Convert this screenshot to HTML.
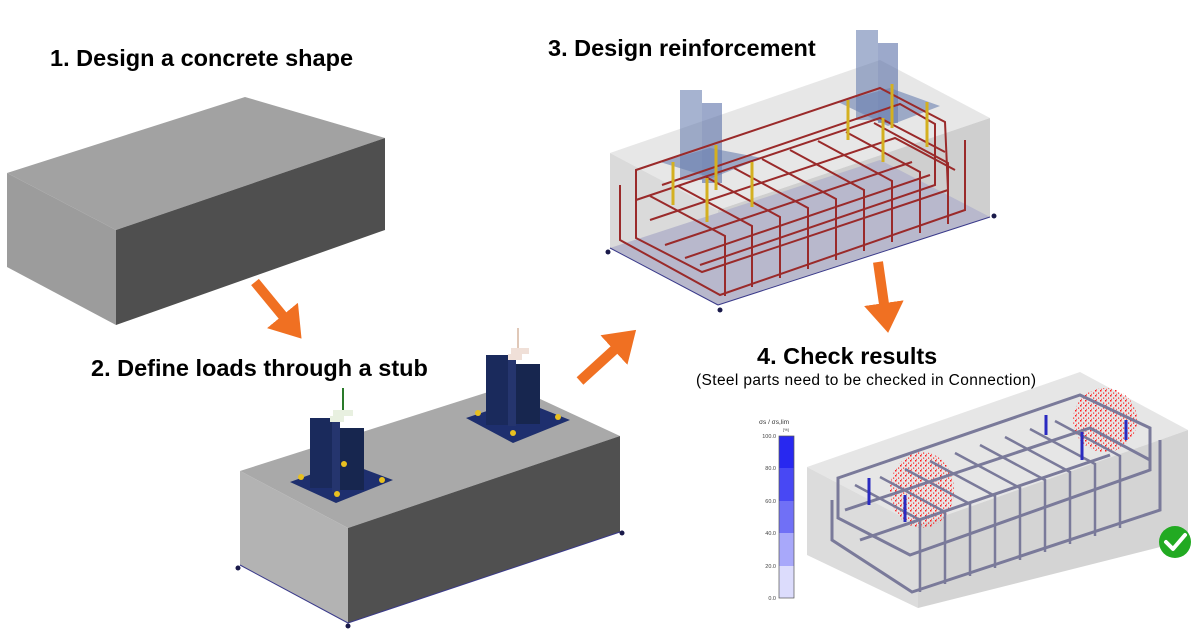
<!DOCTYPE html>
<html><head><meta charset="utf-8"><style>
body{margin:0;background:#fff;}
svg{display:block;font-family:"Liberation Sans","DejaVu Sans",sans-serif;}
</style></head><body>
<svg width="1200" height="630" viewBox="0 0 1200 630" xmlns="http://www.w3.org/2000/svg">
<defs>
<marker id="ah" markerWidth="4" markerHeight="4" refX="1.5" refY="2" orient="auto" markerUnits="strokeWidth">
<path d="M0,0 L3,2 L0,4 z" fill="#f07022"/></marker>
<pattern id="dots" width="5" height="5" patternUnits="userSpaceOnUse">
<rect x="0" y="0" width="1.5" height="1.5" fill="#ff1a1a"/><rect x="3" y="2.5" width="1.2" height="1.2" fill="#ff1a1a"/><rect x="1" y="3.8" width="1" height="1" fill="#ff4040"/>
</pattern>
</defs>
<!-- Titles -->
<g font-weight="bold" fill="#000">
<text x="50" y="66" font-size="23.5">1. Design a concrete shape</text>
<text x="91" y="376" font-size="23.5">2. Define loads through a stub</text>
<text x="548" y="56" font-size="23.5">3. Design reinforcement</text>
<text x="757" y="364" font-size="23.5">4. Check results</text>
</g>
<text x="696" y="385" font-size="15.5" fill="#000" textLength="340">(Steel parts need to be checked in Connection)</text>

<!-- Block 1 -->
<polygon points="7,173 245,97 385,138 116,230" fill="#a2a2a2"/>
<polygon points="7,173 116,230 116,325 7,267" fill="#9c9c9c"/>
<polygon points="116,230 385,138 385,230 116,325" fill="#4f4f4f"/>

<!-- Arrows -->
<g stroke="#f07022" stroke-width="10" fill="none">
<line x1="255" y1="282" x2="292" y2="327" marker-end="url(#ah)"/>
<line x1="580" y1="381" x2="625" y2="340" marker-end="url(#ah)"/>
<line x1="878" y1="262" x2="886" y2="318" marker-end="url(#ah)"/>
</g>

<!-- Block 2 -->
<polygon points="240,471 510,385 620,436 348,528" fill="#a9a9a9"/>
<polygon points="240,471 348,528 348,623 240,565" fill="#b3b3b3"/>
<polygon points="348,528 620,436 620,532 348,623" fill="#505050"/>
<line x1="240" y1="565" x2="348" y2="623" stroke="#3a3a8a" stroke-width="1"/>
<line x1="348" y1="623" x2="620" y2="532" stroke="#3a3a8a" stroke-width="1"/>
<!-- stub 1 -->
<polygon points="290,482 345,462 393,480 336,503" fill="#1e2f6e"/>
<rect x="310" y="418" width="22" height="70" fill="#1a2a5c"/>
<rect x="332" y="422" width="8" height="70" fill="#25356e"/>
<rect x="340" y="428" width="24" height="62" fill="#17264f"/>
<line x1="343" y1="388" x2="343" y2="412" stroke="#2a7a2a" stroke-width="2"/>
<rect x="333" y="410" width="20" height="6" fill="#e8f0e0"/>
<rect x="330" y="416" width="14" height="6" fill="#e8f0e0"/>
<g fill="#e8c020"><circle cx="301" cy="477" r="3"/><circle cx="382" cy="480" r="3"/><circle cx="337" cy="494" r="3"/><circle cx="344" cy="464" r="3"/></g>
<!-- stub 2 -->
<polygon points="466,418 520,400 570,420 513,443" fill="#1e2f6e"/>
<rect x="486" y="355" width="22" height="70" fill="#1a2a5c"/>
<rect x="508" y="360" width="8" height="66" fill="#25356e"/>
<rect x="516" y="364" width="24" height="60" fill="#17264f"/>
<line x1="518" y1="328" x2="518" y2="348" stroke="#c09070" stroke-width="1"/>
<rect x="511" y="348" width="18" height="6" fill="#f0e0d8"/>
<rect x="508" y="354" width="14" height="6" fill="#f0e0d8"/>
<g fill="#e8c020"><circle cx="478" cy="413" r="3"/><circle cx="558" cy="417" r="3"/><circle cx="513" cy="433" r="3"/></g>
<g fill="#1a1a4a"><circle cx="238" cy="568" r="2.5"/><circle cx="348" cy="626" r="2.5"/><circle cx="622" cy="533" r="2.5"/></g>

<!-- Block 3 -->
<polygon points="610,153 880,60 990,118 718,210" fill="#e4e4e4" opacity="0.9"/>
<polygon points="610,153 718,210 718,305 610,248" fill="#dadada"/>
<polygon points="718,210 990,118 990,217 718,305" fill="#cfcfcf"/>
<polygon points="610,248 880,160 990,217 718,305" fill="#b8b8cc"/>
<line x1="610" y1="248" x2="718" y2="305" stroke="#3a3a8a"/>
<line x1="718" y1="305" x2="990" y2="217" stroke="#3a3a8a"/>
<!-- steel ghosts -->
<rect x="680" y="90" width="22" height="90" fill="#6a80b0" opacity="0.6"/>
<rect x="702" y="103" width="20" height="80" fill="#5a70a8" opacity="0.6"/>
<polygon points="660,162 710,148 762,158 712,178" fill="#6a80b0" opacity="0.6"/>
<rect x="856" y="30" width="22" height="90" fill="#6a80b0" opacity="0.6"/>
<rect x="878" y="43" width="20" height="80" fill="#5a70a8" opacity="0.6"/>
<polygon points="838,102 890,88 940,106 888,126" fill="#6a80b0" opacity="0.6"/>
<!-- rebar grid -->
<g stroke="#9a2a2a" stroke-width="2" fill="none">
<path d="M636,170 L880,88 L945,122 L948,190 L702,272 L636,238 Z"/>
<path d="M662,185 L900,104 L935,124 L935,185 L700,265"/>
<path d="M620,185 L620,240 L720,295 L965,210 L965,140"/>
<g>
<path d="M650,196 L725,236 L725,296"/><path d="M678,186 L752,226 L752,287"/><path d="M706,177 L780,217 L780,278"/>
<path d="M734,168 L808,208 L808,269"/><path d="M762,159 L836,199 L836,260"/><path d="M790,150 L864,190 L864,251"/>
<path d="M818,141 L892,181 L892,242"/><path d="M846,132 L920,172 L920,233"/><path d="M874,123 L948,163 L948,224"/>
</g>
<path d="M636,200 L880,118 L945,152"/><path d="M650,220 L895,138 L955,170"/>
<path d="M665,245 L912,162"/><path d="M685,258 L930,175"/>
</g>
<g stroke="#d4b020" stroke-width="3">
<line x1="673" y1="162" x2="673" y2="205"/><line x1="707" y1="178" x2="707" y2="222"/><line x1="716" y1="145" x2="716" y2="190"/><line x1="752" y1="162" x2="752" y2="207"/>
<line x1="848" y1="100" x2="848" y2="140"/><line x1="883" y1="118" x2="883" y2="162"/><line x1="892" y1="84" x2="892" y2="128"/><line x1="927" y1="102" x2="927" y2="147"/>
</g>
<g fill="#1a1a4a"><circle cx="608" cy="252" r="2.5"/><circle cx="720" cy="310" r="2.5"/><circle cx="994" cy="216" r="2.5"/></g>

<!-- Block 4 -->
<polygon points="807,467 1080,372 1188,430 918,525" fill="#e6e6e6"/>
<polygon points="807,467 918,525 918,608 807,555" fill="#dcdcdc"/>
<polygon points="918,525 1188,430 1188,540 918,608" fill="#d4d4d4"/>
<g fill="url(#dots)">
<ellipse cx="922" cy="490" rx="32" ry="38"/>
<ellipse cx="1105" cy="420" rx="32" ry="32"/>
</g>
<g stroke="#7a7a9a" stroke-width="3" fill="none">
<path d="M838,478 L1080,395 L1150,428 L1150,470 L910,555 L838,518 Z"/>
<path d="M832,500 L832,540 L912,592 L1160,510 L1160,440"/>
<g stroke-width="2.5">
<path d="M855,485 L920,520 L920,592"/><path d="M880,477 L945,512 L945,584"/><path d="M905,469 L970,504 L970,576"/>
<path d="M930,461 L995,496 L995,568"/><path d="M955,453 L1020,488 L1020,560"/><path d="M980,445 L1045,480 L1045,552"/>
<path d="M1005,437 L1070,472 L1070,544"/><path d="M1030,429 L1095,464 L1095,536"/><path d="M1055,421 L1120,456 L1120,528"/>
</g>
<path d="M845,510 L1090,428 L1150,460"/><path d="M860,540 L1110,455"/>
</g>
<g stroke="#2a2ac0" stroke-width="3">
<line x1="869" y1="478" x2="869" y2="505"/><line x1="905" y1="495" x2="905" y2="522"/><line x1="1046" y1="415" x2="1046" y2="435"/><line x1="1082" y1="432" x2="1082" y2="460"/><line x1="1126" y1="420" x2="1126" y2="440"/>
</g>
<!-- legend -->
<text x="759" y="424" font-size="6.5" fill="#333">σs / σs,lim</text>
<text x="783" y="431" font-size="4" fill="#333">[%]</text>
<rect x="779" y="436" width="15" height="32" fill="#2828f0"/>
<rect x="779" y="468" width="15" height="33" fill="#4848f4"/>
<rect x="779" y="501" width="15" height="32" fill="#7070f6"/>
<rect x="779" y="533" width="15" height="33" fill="#a8a8fa"/>
<rect x="779" y="566" width="15" height="32" fill="#dcdcfc"/>
<rect x="779" y="436" width="15" height="162" fill="none" stroke="#555" stroke-width="0.7"/>
<g font-size="5.5" fill="#444" text-anchor="end">
<text x="776" y="438">100.0</text><text x="776" y="470">80.0</text><text x="776" y="503">60.0</text><text x="776" y="535">40.0</text><text x="776" y="568">20.0</text><text x="776" y="600">0.0</text>
</g>
<!-- check -->
<circle cx="1175" cy="542" r="16" fill="#22aa22"/>
<path d="M1166,542 L1173,549 L1185,535" stroke="#fff" stroke-width="4" fill="none" stroke-linecap="round" stroke-linejoin="round"/>
</svg>
</body></html>
